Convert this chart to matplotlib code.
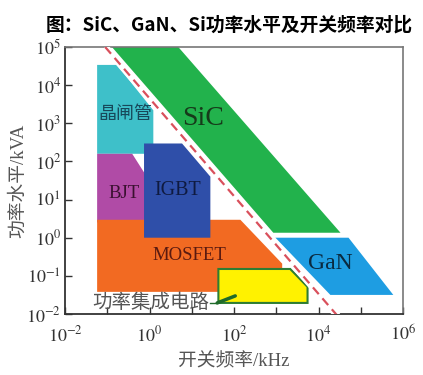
import matplotlib
matplotlib.use('Agg')
import matplotlib.pyplot as plt
import numpy as np

# exponents (log10): frequency kHz (x), power kVA (y)
thyristor_x = [-1.24, -0.77, 0.09, 0.09, -1.24]
thyristor_y = [4.53, 4.53, 3.34, 2.2, 2.2]

bjt_x = [-1.24, -0.41, 0.01, 0.01, -1.24]
bjt_y = [2.2, 2.2, 1.47, 0.4, 0.4]

mosfet_x = [-1.24, 2.15, 3.14, 3.14, -1.24]
mosfet_y = [0.47, 0.47, -0.68, -1.42, -1.42]

igbt_x = [-0.13, 0.77, 1.44, 1.44, -0.13]
igbt_y = [2.47, 2.47, 1.6, 0.0, 0.0]

sic_x = [-0.89, 0.68, 4.52, 2.93]
sic_y = [5.0, 5.0, 0.13, 0.13]

gan_x = [2.98, 4.71, 5.77, 4.28]
gan_y = [0.0, 0.0, -1.5, -1.5]

pic_x = [1.63, 3.33, 3.74, 3.74, 1.63]
pic_y = [-0.82, -0.82, -1.29, -1.71, -1.71]

limit_x = [-1.05, 4.45]
limit_y = [5.0, -2.05]

x_exp = list(range(-2, 7))
x_ticklabels = [f'$10^{{{k}}}$' if k % 2 == 0 else '' for k in x_exp]
y_exp = list(range(-2, 6))
y_ticklabels = [f'$10^{{{k}}}$' for k in y_exp]

plt.rcParams['mathtext.fontset'] = 'stix'
plt.rcParams['font.family'] = ['Liberation Serif', 'Noto Sans CJK SC']

fig = plt.figure(figsize=(4.23, 3.75), dpi=100)
ax = fig.add_axes([0.1537, 0.1627, 0.7991, 0.712])
ax.set_xscale('log')
ax.set_yscale('log')


def poly(xs, ys, color, **kw):
    ax.fill(np.power(10.0, xs), np.power(10.0, ys), color=color, **kw)


poly(sic_x, sic_y, '#22b24c', lw=0, zorder=1)
poly(gan_x, gan_y, '#1e9de2', lw=0, zorder=1)
poly(thyristor_x, thyristor_y, '#3ec0c9', lw=0, zorder=2)
poly(bjt_x, bjt_y, '#b04ba6', lw=0, zorder=2)
poly(mosfet_x, mosfet_y, '#f26a22', lw=0, zorder=3)
poly(igbt_x, igbt_y, '#2f4fa9', lw=0, zorder=4)
ax.fill(np.power(10.0, pic_x), np.power(10.0, pic_y), facecolor='#fff200',
        edgecolor='#2e7d32', lw=1.5, zorder=5)

# white band + dashed limit line
lx = np.power(10.0, limit_x)
ly = np.power(10.0, limit_y)
ax.plot(lx, ly, color='white', lw=5, zorder=6, solid_capstyle='butt')
ax.plot(lx, ly, color='#d9505c', lw=1.6, ls=(0, (4, 2.5)), zorder=7)

# leader for the power IC label
ax.plot([40, 107], [0.0195, 0.0298], color='#1f6b2a', lw=2.5, zorder=8,
        solid_capstyle='round')
ax.plot([27, 40], [0.0195, 0.0195], color='#1f6b2a', lw=1, zorder=8)

ax.text(0.264, 1730, '晶闸管', fontsize=13, color='#17485a', ha='center', va='center',
        family=['Noto Sans CJK SC'], zorder=9)
ax.text(18.6, 1350, 'SiC', fontsize=20, color='#163a1a', ha='center', va='center', zorder=9)
ax.text(0.25, 14.4, 'BJT', fontsize=13.5, color='#3a1030', ha='center', va='center', zorder=9)
ax.text(4.76, 17.3, 'IGBT', fontsize=14.5, color='#0f1a40', ha='center', va='center', zorder=9)
ax.text(8.67, 0.336, 'MOSFET', fontsize=13.5, color='#5a1a10', ha='center', va='center', zorder=9)
ax.text(19000, 0.207, 'GaN', fontsize=17, color='#0a2a40', ha='center', va='center', zorder=9)
ax.text(26, 0.0195, '功率集成电路', fontsize=14, color='#555555', ha='right', va='center',
        family=['Noto Sans CJK SC'], zorder=9)

ax.set_xlim(1e-2, 1e6)
ax.set_ylim(1e-2, 1e5)
ax.set_xticks([10.0 ** k for k in x_exp])
ax.set_xticklabels(x_ticklabels)
ax.set_yticks([10.0 ** k for k in y_exp])
ax.set_yticklabels(y_ticklabels)
ax.minorticks_off()
ax.tick_params(direction='in', length=5, width=1, color='#333333', labelsize=13,
               labelcolor='#333333', pad=3)
ax.tick_params(axis='x', pad=8)

for side in ['left', 'bottom']:
    ax.spines[side].set_color('#333333')
    ax.spines[side].set_linewidth(1.3)
for side in ['top', 'right']:
    ax.spines[side].set_color('#777777')
    ax.spines[side].set_linewidth(1.2)

ax.set_xlabel('开关频率/kHz', fontsize=13.5, color='#555555', labelpad=6)
ax.set_ylabel('功率水平/kVA', fontsize=13.5, color='#555555', labelpad=-1)

fig.text(0.541, 0.933, '图：SiC、GaN、Si功率水平及开关频率对比', fontsize=13.5,
         fontweight='bold', ha='center', va='center', family=['Noto Sans CJK SC'])

fig.savefig('out.png', dpi=100)
